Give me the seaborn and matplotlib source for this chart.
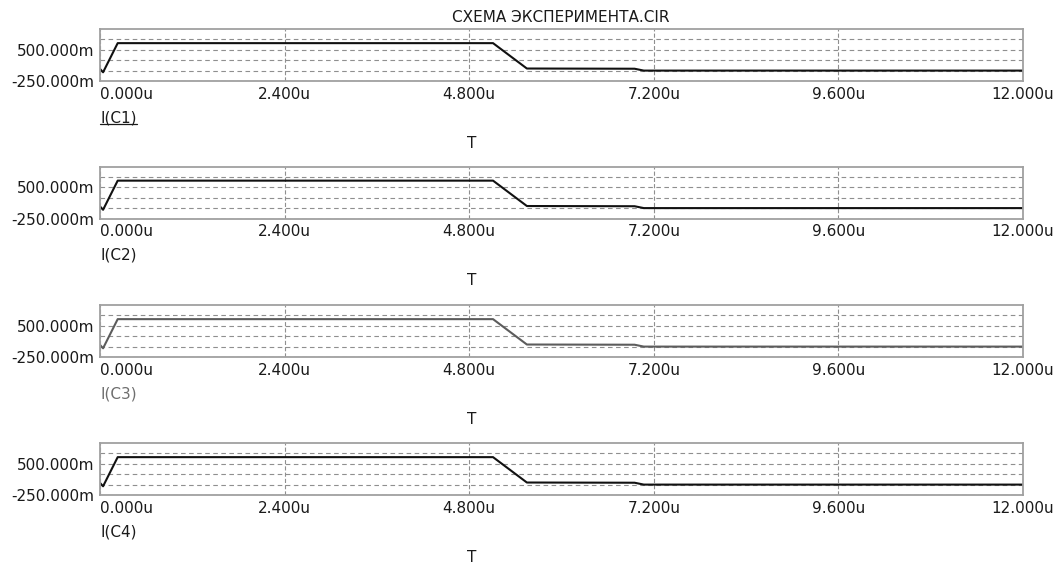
import matplotlib
matplotlib.use('Agg')
import matplotlib.pyplot as plt
import seaborn as sns
from matplotlib.lines import Line2D

sns.set_style('white')
plt.rcParams['font.family'] = ['DejaVu Sans']
plt.rcParams['lines.scale_dashes'] = False

TITLE = 'СХЕМА ЭКСПЕРИМЕНТА.CIR'
X_NAME = 'T'
traces = ['I(C1)', 'I(C2)', 'I(C3)', 'I(C4)']
trace_colors = ['#111111', '#111111', '#5c5c5c', '#111111']
label_colors = ['#1a1a1a', '#1a1a1a', '#6e6e6e', '#1a1a1a']

# time in microseconds, current in amperes (same waveform in all four traces)
t_us = [0.0, 0.04, 0.23, 5.11, 5.55, 6.95, 7.07, 12.0]
i_amp = [0.04, -0.04, 0.66, 0.66, 0.05, 0.045, 0.0, 0.0]

x_ticks = [0.0, 2.4, 4.8, 7.2, 9.6, 12.0]
x_labels = ['0.000u', '2.400u', '4.800u', '7.200u', '9.600u', '12.000u']
y_grid = [-0.25, 0.0, 0.25, 0.5, 0.75]
y_labels = ['-250.000m', '', '', '500.000m', '']

W, H = 1063, 567
fig = plt.figure(figsize=(W / 100, H / 100), dpi=100)
fig.patch.set_facecolor('white')

left, width, height = 100 / W, 923 / W, 52 / H
tops = [29, 166.5, 305, 443]
name_texts = []

for name, top, lc, tc in zip(traces, tops, trace_colors, label_colors):
    bottom = top + 52
    ax = fig.add_axes([left, 1 - bottom / H, width, height])
    sns.lineplot(x=t_us, y=i_amp, ax=ax, color=lc, linewidth=1.5, sort=False, estimator=None)
    ax.set_xlim(0, 12)
    ax.set_ylim(-0.25, 1.0)
    ax.set_xticks(x_ticks, x_labels)
    ax.set_yticks(y_grid, y_labels)
    ax.get_xticklabels()[0].set_horizontalalignment('left')
    ax.tick_params(axis='both', length=0, labelsize=11, colors='#1a1a1a')
    ax.tick_params(axis='x', pad=4)
    ax.tick_params(axis='y', pad=4)
    ax.grid(axis='y', color='#8f8f8f', linestyle=(0, (3.3, 2.5)), linewidth=0.8)
    ax.grid(axis='x', color='#8f8f8f', linestyle=(0, (3, 1.5)), linewidth=0.8)
    for sp in ax.spines.values():
        sp.set_color('#a0a0a0')
        sp.set_linewidth(1.3)
    ax.set_xlabel('')
    ax.set_ylabel('')
    txt = fig.text(100 / W, 1 - (bottom + 37) / H, name, ha='left', va='center',
                   fontsize=11, color=tc)
    name_texts.append(txt)
    fig.text(472 / W, 1 - (bottom + 62) / H, X_NAME, ha='center', va='center',
             fontsize=11, color='#1a1a1a')

fig.text(561 / W, 1 - 17 / H, TITLE, ha='center', va='center', fontsize=11, color='#1a1a1a')

# underline the selected trace name, as in the original plot window
fig.canvas.draw()
bb = name_texts[0].get_window_extent()
uy = (bb.y0 + 2) / H
fig.add_artist(Line2D([bb.x0 / W, bb.x1 / W], [uy, uy], color='#1a1a1a', linewidth=0.9))

fig.savefig('out.png', dpi=100)
